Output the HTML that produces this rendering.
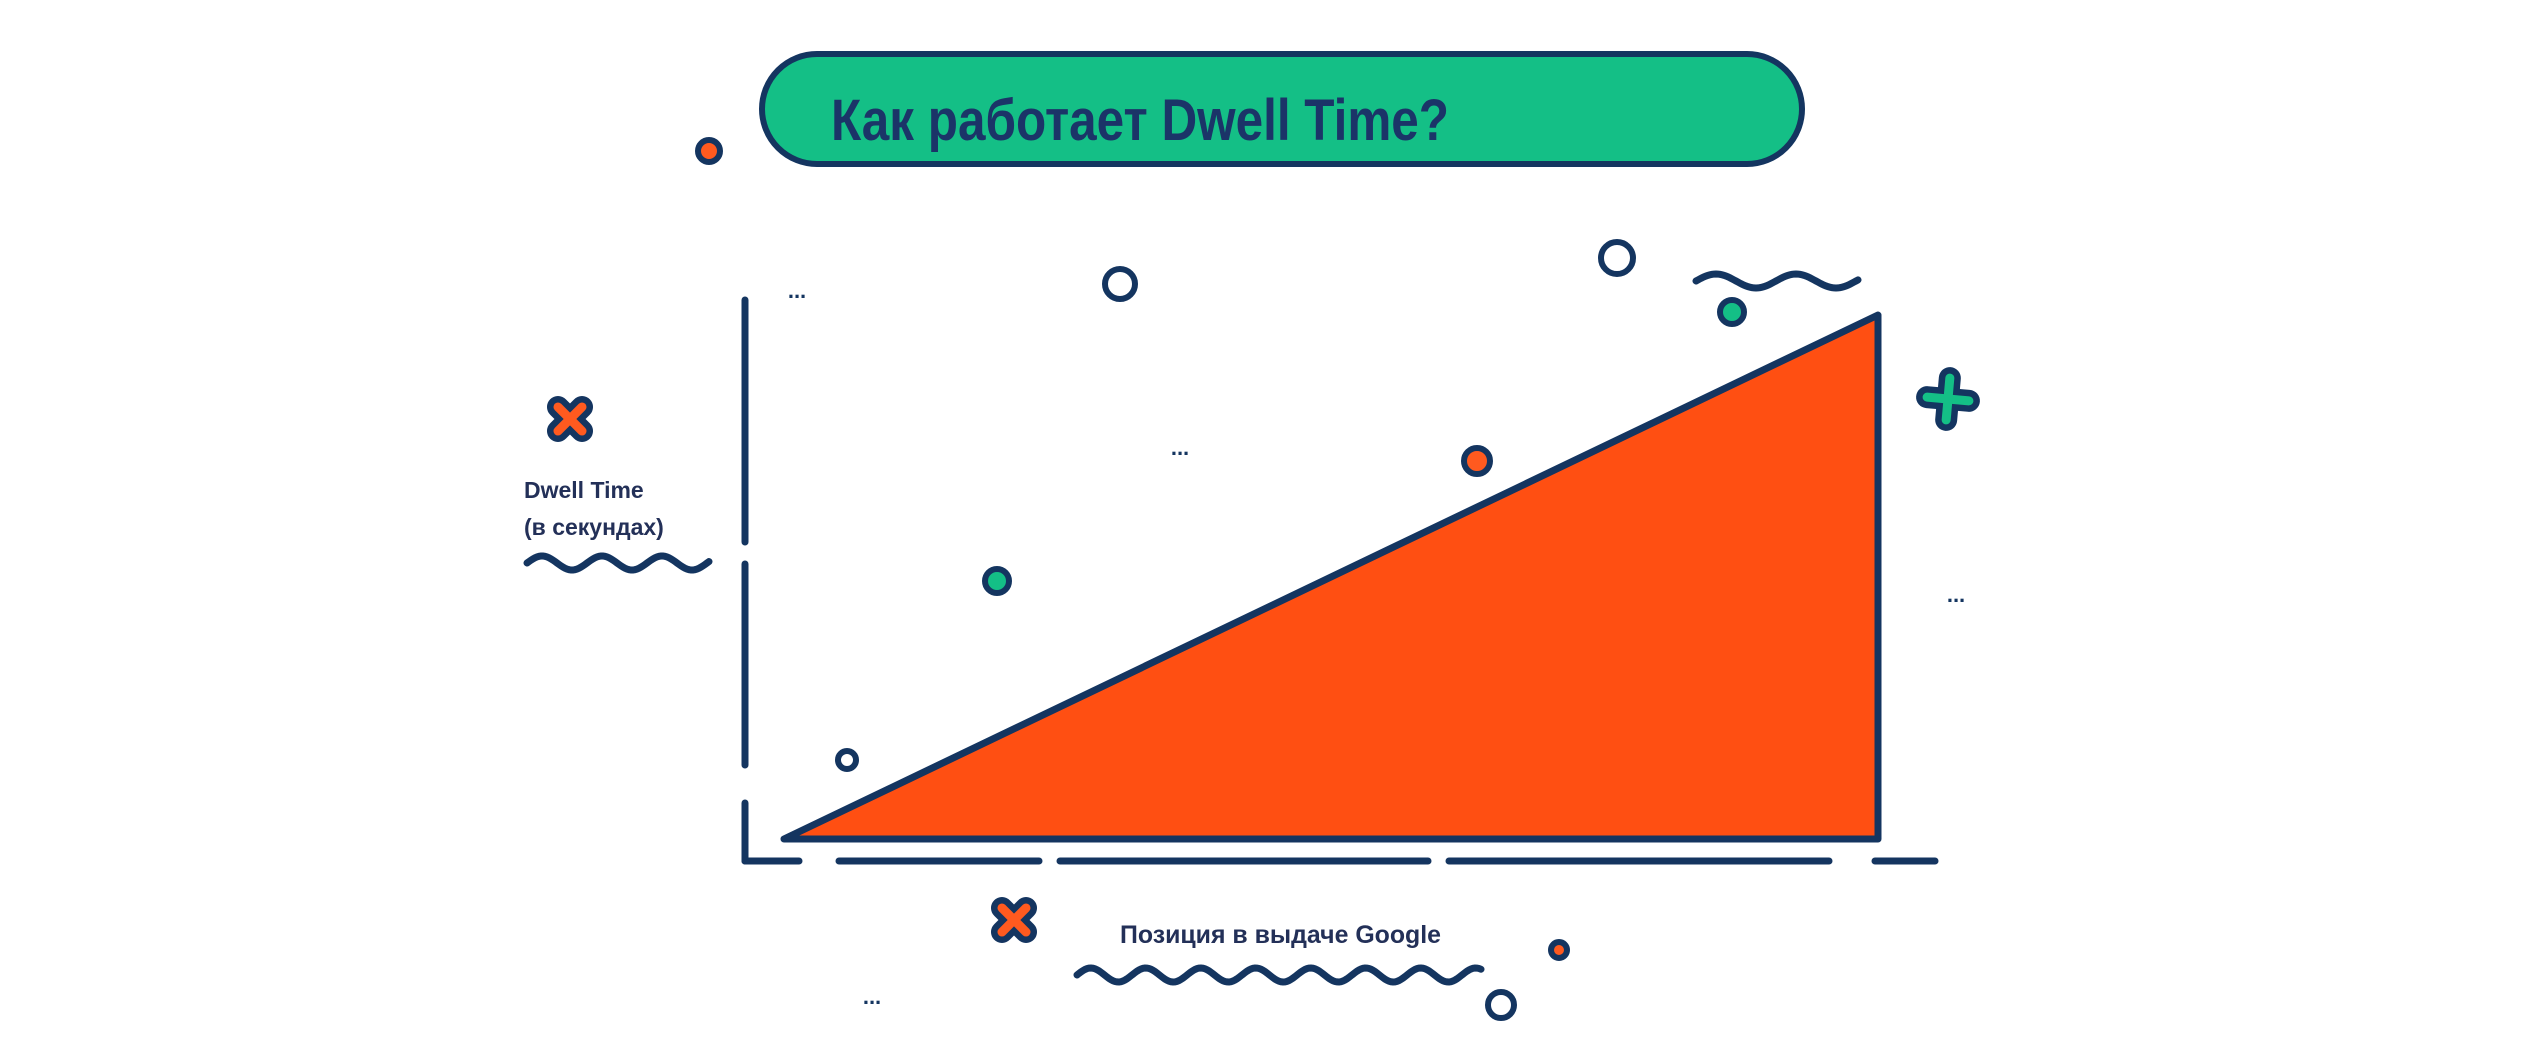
<!DOCTYPE html>
<html><head><meta charset="utf-8"><style>
html,body{margin:0;padding:0;background:#fff;width:2545px;height:1050px;overflow:hidden}
svg{display:block}
</style></head><body>
<svg id="c" width="2545" height="1050" viewBox="0 0 2545 1050" xmlns="http://www.w3.org/2000/svg">
<g>
<rect x="762" y="54" width="1040" height="110" rx="55" fill="#14bf86" stroke="#143560" stroke-width="6"/>
<text x="831" y="140" font-family="Liberation Sans, sans-serif" font-weight="bold" font-size="58" fill="#1b3468" textLength="618" lengthAdjust="spacingAndGlyphs">Как работает Dwell Time?</text>
</g>
<g id="axes"></g>
<g id="marks"></g>
<g id="deco"></g>
<text x="524" y="498" font-family="Liberation Sans, sans-serif" font-weight="bold" font-size="23" fill="#233058">Dwell Time</text>
<text x="524" y="535" font-family="Liberation Sans, sans-serif" font-weight="bold" font-size="23" fill="#233058">(в секундах)</text>
<text x="1120" y="943" font-family="Liberation Sans, sans-serif" font-weight="bold" font-size="25" fill="#233058" textLength="321" lengthAdjust="spacingAndGlyphs">Позиция в выдаче Google</text>
</svg>
<script>
// chart data
const positions = [0, 10];
const dwellValues = [0, 100];
const xDomain = [0, 10];
const yDomain = [0, 100];

const NS = 'http://www.w3.org/2000/svg';
const NAVY = '#143560';
function xs(v){return 784 + (v - xDomain[0]) / (xDomain[1] - xDomain[0]) * (1878 - 784);}
function ys(v){return 839 - (v - yDomain[0]) / (yDomain[1] - yDomain[0]) * (839 - 315);}
function mk(tag, attrs, parent){const e=document.createElementNS(NS,tag);for(const k in attrs)e.setAttribute(k,attrs[k]);parent.appendChild(e);return e;}

const axes=document.getElementById('axes');
[[300,542],[564,765],[803,861]].forEach(s=>{
  const l=mk('line',{x1:745,x2:745,y1:s[0],y2:s[1],stroke:NAVY,'stroke-width':7,'stroke-linecap':'round'},axes);
  
  
});
[[745,799],[839,1039],[1060,1428],[1449,1829],[1875,1935]].forEach(s=>{
  const l=mk('line',{x1:s[0],x2:s[1],y1:861,y2:861,stroke:NAVY,'stroke-width':7,'stroke-linecap':'round'},axes);
  
  
});

const marks=document.getElementById('marks');
const x0=xs(positions[0]), x1=xs(positions[positions.length-1]);
let d='M'+x0+','+ys(yDomain[0]);
positions.forEach((p,i)=>{d+=' L'+xs(p)+','+ys(dwellValues[i]);});
d+=' L'+x1+','+ys(yDomain[0])+' Z';
const area=mk('path',{d:d,fill:'#ff4f12',stroke:NAVY,'stroke-width':7,'stroke-linejoin':'round'},marks);



const deco=document.getElementById('deco');
function circle(cx,cy,r,fill,name){const c=mk('circle',{cx:cx,cy:cy,r:r,fill:fill,stroke:NAVY,'stroke-width':6},deco);}
function wave(xa,xb,y,per,amp,name){let p='M'+xa+','+y;for(let x=xa;x<=xb;x+=2){p+=' L'+x+','+(y+amp*Math.sin((x-xa)/per*2*Math.PI));}const w=mk('path',{d:p,fill:'none',stroke:NAVY,'stroke-width':7,'stroke-linecap':'round'},deco);}
function cross(cx,cy,s,fill,rot,name){const g=mk('g',{transform:'translate('+cx+','+cy+') rotate('+rot+')'},deco);
  mk('line',{x1:-s,y1:0,x2:s,y2:0,stroke:NAVY,'stroke-width':22,'stroke-linecap':'round'},g);
  mk('line',{x1:0,y1:-s,x2:0,y2:s,stroke:NAVY,'stroke-width':22,'stroke-linecap':'round'},g);
  mk('line',{x1:-s,y1:0,x2:s,y2:0,stroke:fill,'stroke-width':9,'stroke-linecap':'round'},g);
  mk('line',{x1:0,y1:-s,x2:0,y2:s,stroke:fill,'stroke-width':9,'stroke-linecap':'round'},g);}
function dots(x,y,name){const t=mk('text',{x:x,y:y,'font-family':'Liberation Sans, sans-serif','font-weight':'bold','font-size':22,fill:NAVY,'text-anchor':'middle'},deco);t.textContent='...';}

circle(709,151,11,'#ff5a1f','orange-dot-top');
circle(1120,284,15,'#fff','hollow-circle-1');
circle(1617,258,16,'#fff','hollow-circle-2');
wave(1696,1858,281,80,-7,'wave-top');
circle(1732,312,12,'#14bf86','green-dot-top');
cross(1948,399,21,'#14bf86',5,'green-plus');
cross(570,419,17,'#ff5a1f',45,'orange-x-left');
wave(527,709,563,60,-7,'wave-left');
circle(997,581,12,'#14bf86','green-dot-mid');
circle(1477,461,13,'#ff5a1f','orange-dot-mid');
circle(847,760,9,'#fff','hollow-circle-small');
cross(1014,920,17,'#ff5a1f',45,'orange-x-bottom');
wave(1077,1482,975,55,-7,'wave-bottom');
circle(1559,950,8,'#ff5a1f','orange-dot-bottom');
circle(1501,1005,13,'#fff','hollow-circle-bottom');
dots(797,298,'ellipsis-1');
dots(1180,455,'ellipsis-2');
dots(1956,602,'ellipsis-3');
dots(872,1004,'ellipsis-4');
</script>
</body></html>
